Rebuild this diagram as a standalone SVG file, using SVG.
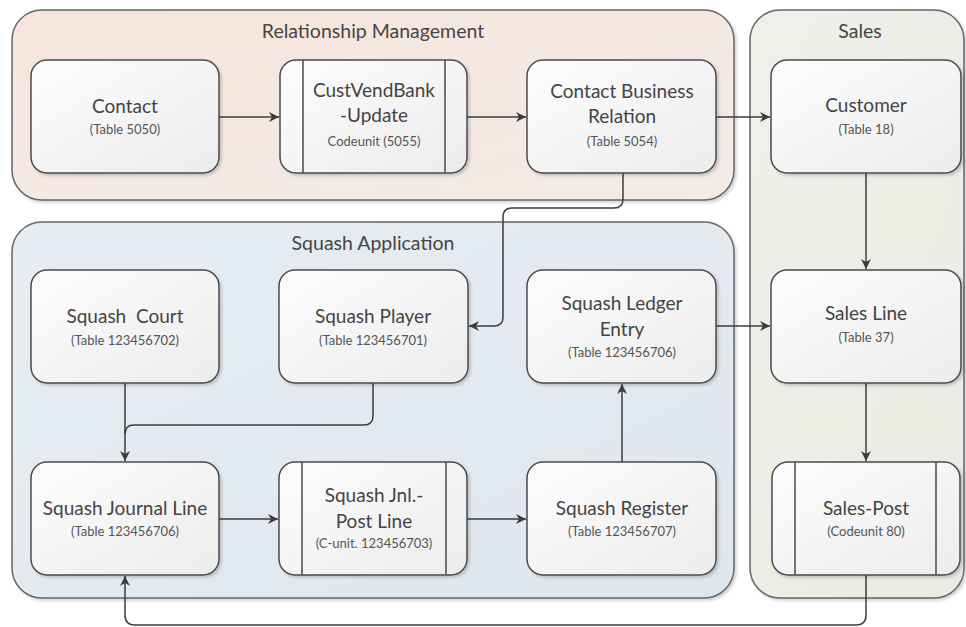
<svg xmlns="http://www.w3.org/2000/svg" width="966" height="627" viewBox="0 0 966 627">
  <defs>
    <linearGradient id="gRM" x1="0" y1="0" x2="1" y2="1">
      <stop offset="0" stop-color="#f6e6dc"/>
      <stop offset="1" stop-color="#f3ebe6"/>
    </linearGradient>
    <linearGradient id="gSQ" x1="0" y1="0" x2="1" y2="1">
      <stop offset="0" stop-color="#e6edf3"/>
      <stop offset="1" stop-color="#dfe7ee"/>
    </linearGradient>
    <linearGradient id="gSA" x1="0" y1="0" x2="1" y2="1">
      <stop offset="0" stop-color="#f0f0ea"/>
      <stop offset="1" stop-color="#eaebe2"/>
    </linearGradient>
    <linearGradient id="gNode" x1="0" y1="0" x2="1" y2="1">
      <stop offset="0" stop-color="#fdfdfd"/>
      <stop offset="1" stop-color="#ececec"/>
    </linearGradient>
    <filter id="shadow" x="-5%" y="-5%" width="112%" height="115%">
      <feDropShadow dx="2" dy="2" stdDeviation="1.5" flood-color="#000" flood-opacity="0.18"/>
    </filter>
    <marker id="arrow" viewBox="0 0 10 10" refX="10" refY="5" markerWidth="10" markerHeight="10" markerUnits="userSpaceOnUse" orient="auto">
      <path d="M0,0 L10,5 L0,10 L3,5 z" fill="#3c3c3c"/>
    </marker>
  </defs>
  <style>
    .container { stroke: #666; stroke-width: 1.5; filter: url(#shadow); }
    .node { fill: url(#gNode); stroke: #4a4a4a; stroke-width: 1.5; filter: url(#shadow); }
    .bar { stroke: #4a4a4a; stroke-width: 1.5; }
    .title { font-family: Lato, "Open Sans", "Liberation Sans", sans-serif; font-size: 19.5px; fill: #454545; text-anchor: middle; }
    .main { font-family: Lato, "Open Sans", "Liberation Sans", sans-serif; font-size: 19px; fill: #444; text-anchor: middle; white-space: pre; }
    .sub { font-family: Lato, "Open Sans", "Liberation Sans", sans-serif; font-size: 13px; fill: #555; text-anchor: middle; }
    .conn { fill: none; stroke: #3c3c3c; stroke-width: 1.5; marker-end: url(#arrow); }
    .line { fill: none; stroke: #3c3c3c; stroke-width: 1.5; }
  </style>

  <!-- containers -->
  <g id="relationship-management">
    <rect class="container" x="12" y="10" width="722" height="190" rx="30" fill="url(#gRM)"/>
    <text class="title" x="373" y="38">Relationship Management</text>
  </g>
  <g id="sales">
    <rect class="container" x="750" y="10" width="214" height="588" rx="30" fill="url(#gSA)"/>
    <text class="title" x="860" y="38">Sales</text>
  </g>
  <g id="squash-application">
    <rect class="container" x="12" y="222" width="722" height="376" rx="30" fill="url(#gSQ)"/>
    <text class="title" x="373" y="250">Squash Application</text>
  </g>

  <!-- connectors -->
  <g id="connectors">
    <path class="conn" d="M219,117 H279"/>
    <path class="conn" d="M467,117 H526"/>
    <path class="conn" d="M716,117 H770"/>
    <path class="conn" d="M623,173 V199 Q623,208 614,208 H512 Q503,208 503,217 V317 Q503,326 494,326 H469"/>
    <path class="conn" d="M866,173 V269"/>
    <path class="conn" d="M716,326 H770"/>
    <path class="conn" d="M125,383 V461"/>
    <path class="line" d="M373,383 V416 Q373,425 364,425 H134 Q125,425 125,434"/>
    <path class="conn" d="M219,519 H278"/>
    <path class="conn" d="M467,519 H526"/>
    <path class="conn" d="M622,462 V384"/>
    <path class="conn" d="M866,383 V461"/>
    <path class="conn" d="M866,575 V615 Q866,625 856,625 H135 Q125,625 125,615 V576"/>
  </g>

  <!-- nodes: relationship management -->
  <g id="contact">
    <rect class="node" x="31" y="60" width="188" height="113" rx="16"/>
    <text class="main" x="125" y="113">Contact</text>
    <text class="sub" x="125" y="134">(Table 5050)</text>
  </g>
  <g id="custvendbank-update">
    <rect class="node" x="280" y="60" width="187" height="113" rx="16"/>
    <line class="bar" x1="303" y1="60" x2="303" y2="173"/>
    <line class="bar" x1="445" y1="60" x2="445" y2="173"/>
    <text class="main" x="374" y="97">CustVendBank</text>
    <text class="main" x="374" y="122">-Update</text>
    <text class="sub" x="374" y="146">Codeunit (5055)</text>
  </g>
  <g id="contact-business-relation">
    <rect class="node" x="527" y="60" width="189" height="113" rx="16"/>
    <text class="main" x="622" y="98">Contact Business</text>
    <text class="main" x="622" y="123">Relation</text>
    <text class="sub" x="622" y="146">(Table 5054)</text>
  </g>

  <!-- nodes: sales -->
  <g id="customer">
    <rect class="node" x="771" y="60" width="190" height="113" rx="16"/>
    <text class="main" x="866" y="112">Customer</text>
    <text class="sub" x="866" y="134">(Table 18)</text>
  </g>
  <g id="sales-line">
    <rect class="node" x="771" y="270" width="190" height="113" rx="16"/>
    <text class="main" x="866" y="320">Sales Line</text>
    <text class="sub" x="866" y="342">(Table 37)</text>
  </g>
  <g id="sales-post">
    <rect class="node" x="772" y="462" width="188" height="113" rx="16"/>
    <line class="bar" x1="795" y1="462" x2="795" y2="575"/>
    <line class="bar" x1="936" y1="462" x2="936" y2="575"/>
    <text class="main" x="866" y="515">Sales-Post</text>
    <text class="sub" x="866" y="536">(Codeunit 80)</text>
  </g>

  <!-- nodes: squash application -->
  <g id="squash-court">
    <rect class="node" x="31" y="270" width="188" height="113" rx="16"/>
    <text class="main" x="125" y="323" xml:space="preserve">Squash  Court</text>
    <text class="sub" x="125" y="345">(Table 123456702)</text>
  </g>
  <g id="squash-player">
    <rect class="node" x="279" y="270" width="189" height="113" rx="16"/>
    <text class="main" x="373" y="323">Squash Player</text>
    <text class="sub" x="373" y="345">(Table 123456701)</text>
  </g>
  <g id="squash-ledger-entry">
    <rect class="node" x="527" y="270" width="189" height="113" rx="16"/>
    <text class="main" x="622" y="310">Squash Ledger</text>
    <text class="main" x="622" y="336">Entry</text>
    <text class="sub" x="622" y="357">(Table 123456706)</text>
  </g>
  <g id="squash-journal-line">
    <rect class="node" x="31" y="462" width="188" height="113" rx="16"/>
    <text class="main" x="125" y="515">Squash Journal Line</text>
    <text class="sub" x="125" y="536">(Table 123456706)</text>
  </g>
  <g id="squash-jnl-post-line">
    <rect class="node" x="279" y="462" width="188" height="113" rx="16"/>
    <line class="bar" x1="302" y1="462" x2="302" y2="575"/>
    <line class="bar" x1="446" y1="462" x2="446" y2="575"/>
    <text class="main" x="374" y="502">Squash Jnl.-</text>
    <text class="main" x="374" y="528">Post Line</text>
    <text class="sub" x="374" y="548">(C-unit. 123456703)</text>
  </g>
  <g id="squash-register">
    <rect class="node" x="527" y="462" width="189" height="113" rx="16"/>
    <text class="main" x="622" y="515">Squash Register</text>
    <text class="sub" x="622" y="536">(Table 123456707)</text>
  </g>
</svg>
